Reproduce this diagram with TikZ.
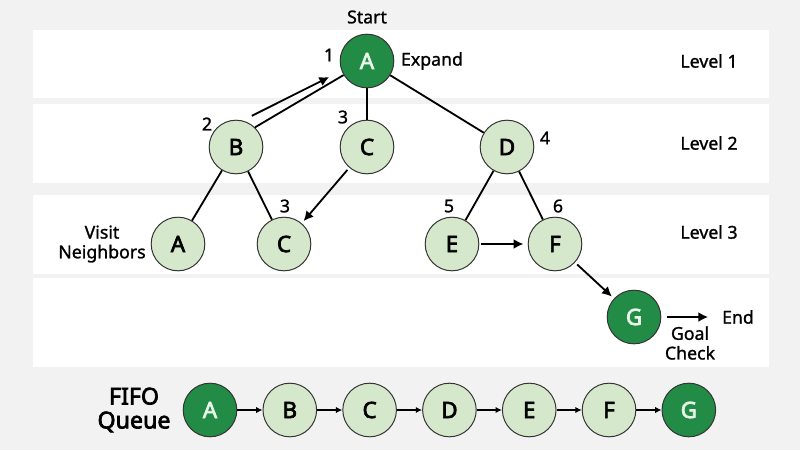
\documentclass[tikz,border=0pt]{standalone}
\usepackage{fontspec}
\setmainfont{Noto Sans}
\newfontfamily\heavyfont{Noto Sans}[FakeBold=3]
\newfontfamily\midfont{Noto Sans}[FakeBold=1.2]
\usetikzlibrary{positioning, calc, arrows.meta}
\definecolor{darkgreen}{RGB}{34,139,70}
\definecolor{lightgreen}{RGB}{214,232,204}
\definecolor{bggray}{RGB}{242,242,242}
\definecolor{paletext}{RGB}{232,245,232}

\begin{document}
\begin{tikzpicture}[
  x=0.025cm, y=0.025cm,
  node distance=0.63cm,
  vert/.style={circle, draw=black!80, line width=0.7pt, fill=lightgreen,
               minimum size=1.34cm, inner sep=0pt,
               font=\heavyfont\fontsize{16}{18}\selectfont},
  goal/.style={vert, fill=darkgreen, text=paletext},
  band/.style={fill=white},
  lbl/.style={font=\midfont\fontsize{12.6}{14}\selectfont, align=center},
  edge/.style={line width=1.3pt},
  arr/.style={edge, -{Latex[length=7pt,width=7pt]}},
  qarr/.style={line width=0.9pt, -{Latex[length=4.5pt,width=4.5pt]}},
]
  % Background and level bands
  \fill[bggray] (0,0) rectangle (800,450);
  \useasboundingbox (0,0) rectangle (800,450);
  \fill[band] (33,352) rectangle (769,420);
  \fill[band] (33,267) rectangle (769,346);
  \fill[band] (33,176) rectangle (769,255);
  \fill[band] (33,83)  rectangle (769,172);

  % Search tree
  \node[goal] (a1) at (367,389) {A};
  \node[vert] (b)  at (236,303) {B};
  \node[vert] (c)  at (367,303) {C};
  \node[vert] (d)  at (507,303) {D};
  \node[vert] (a3) at (178,206) {A};
  \node[vert] (c3) at (284,206) {C};
  \node[vert] (e)  at (452,206) {E};
  \node[vert] (f)  at (555,206) {F};
  \node[goal] (g)  at (634,133) {G};

  % Labels
  \node[lbl] (start)  at (367,433) {Start};
  \node[lbl] (n1)     at (329,395) {1};
  \node[lbl] (expand) at (432,389) {Expand};
  \node[lbl] (n2)     at (207,326) {2};
  \node[lbl] (n3)     at (343,333) {3};
  \node[lbl] (n4)     at (545,312) {4};
  \node[lbl] (n3b)    at (285,244) {3};
  \node[lbl] (n5)     at (449,244) {5};
  \node[lbl] (n6)     at (558,244) {6};
  \node[lbl] (visit)  at (102,206) {Visit\\Neighbors};
  \node[lbl] (lev1)   at (709,389) {Level 1};
  \node[lbl] (lev2)   at (709,307) {Level 2};
  \node[lbl] (lev3)   at (709,218) {Level 3};
  \node[lbl] (endl)   at (738,133) {End};
  \node[lbl] (check)  at (690,107) {Goal\\Check};

  % Edges
  \draw[edge] (b.46) -- (a1.211);
  \draw[arr] ($(b)+(63:35)$) -- ($(a1)+(203:41)$);
  \draw[edge] (a1) -- (c);
  \draw[edge] (a1) -- (d);
  \draw[edge] (b) -- (a3);
  \draw[edge] (b) -- (c3);
  \draw[arr, shorten <=2pt, shorten >=2pt] (c) -- (c3);
  \draw[edge] (d) -- (e);
  \draw[edge] (d) -- (f);
  \draw[arr, shorten <=1pt, shorten >=3pt] (e) -- (f);
  \draw[arr, shorten <=2pt, shorten >=2pt] (f) -- (g);
  \draw[arr, shorten <=4pt, shorten >=6.4pt] (g) -- (endl);

  % FIFO queue
  \node[font=\heavyfont\fontsize{16.5}{17}\selectfont, align=center] (fifo) at (134,40) {FIFO\\Queue};
  \node[goal] (q1) at (210,40) {A};
  \node[vert, right=of q1] (q2) {B};
  \node[vert, right=of q2] (q3) {C};
  \node[vert, right=of q3] (q4) {D};
  \node[vert, right=of q4] (q5) {E};
  \node[vert, right=of q5] (q6) {F};
  \node[goal, right=of q6] (q7) {G};
  \foreach \i/\j in {1/2,2/3,3/4,4/5,5/6,6/7}
    \draw[qarr] (q\i) -- (q\j);

\end{tikzpicture}
\end{document}
